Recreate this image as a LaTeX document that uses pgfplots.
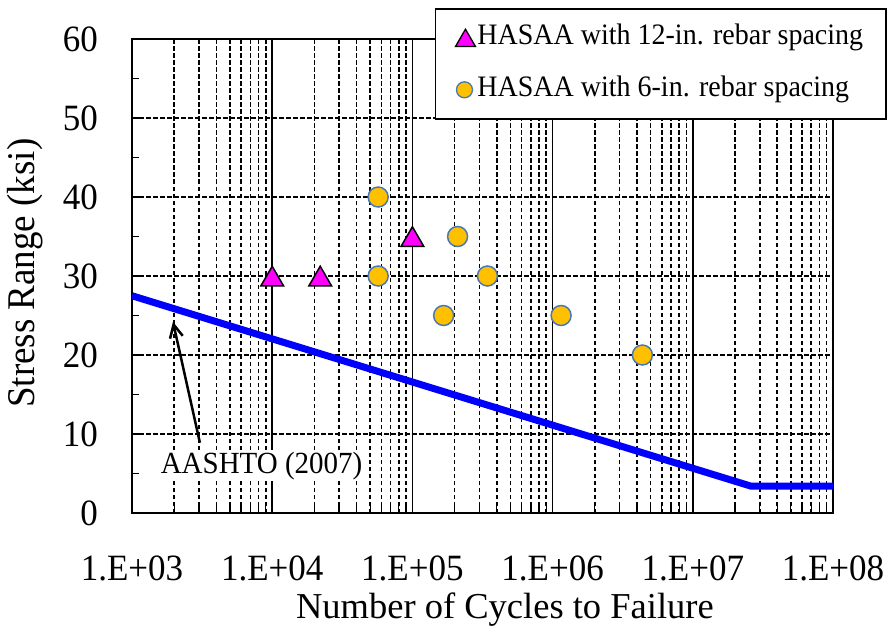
\documentclass[border=0pt]{standalone}
\usepackage{fontspec}
\setmainfont{Liberation Serif}
\usepackage{graphicx}
\usepackage{pgfplots}
\pgfplotsset{compat=1.18}
\usetikzlibrary{arrows.meta}
\definecolor{mag}{HTML}{FF00FF}
\definecolor{gold}{HTML}{FFC000}
\definecolor{ring}{HTML}{4A78B0}
\definecolor{aashto}{HTML}{0000FF}
\newcommand{\tl}[1]{\scalebox{1}[1.06]{#1}}
\begin{document}
\begin{tikzpicture}
\begin{axis}[
  xmode=log, log basis x=10,
  scale only axis, width=701pt, height=474pt,
  xmin=1e3, xmax=1e8, ymin=0, ymax=60,
  xtick={1e3,1e4,1e5,1e6,1e7,1e8},
  xticklabels={\tl{1.E+03},\tl{1.E+04},\tl{1.E+05},\tl{1.E+06},\tl{1.E+07},\tl{1.E+08}},
  minor xtick={2e3,3e3,4e3,5e3,6e3,7e3,8e3,9e3,
               2e4,3e4,4e4,5e4,6e4,7e4,8e4,9e4,
               2e5,3e5,4e5,5e5,6e5,7e5,8e5,9e5,
               2e6,3e6,4e6,5e6,6e6,7e6,8e6,9e6,
               2e7,3e7,4e7,5e7,6e7,7e7,8e7,9e7},
  ytick={0,10,20,30,40,50,60},
  yticklabels={\tl{0},\tl{10},\tl{20},\tl{30},\tl{40},\tl{50},\tl{60}},
  minor ytick={5,15,25,35,45,55},
  tick align=inside, tick pos=left,
  major tick length=8pt, minor tick length=7pt,
  every tick/.style={black, line width=1.3pt},
  axis line style={black, line width=2.2pt},
  xmajorgrids, xminorgrids, ymajorgrids,
  major x grid style={black, solid, line width=1.5pt},
  minor x grid style={black, dash pattern=on 4.5pt off 2.5pt, line width=1.6pt},
  major y grid style={black, dash pattern=on 4.5pt off 2.5pt, line width=1.6pt},
  tick label style={font=\fontsize{35}{40}\selectfont},
  xticklabel style={inner sep=0pt, anchor=north, yshift=-43pt},
  yticklabel style={inner sep=0pt, anchor=east, xshift=-34pt},
  xlabel={Number of Cycles to Failure},
  ylabel={\tl{Stress Range (ksi)}},
  xlabel style={at={(axis description cs:0.532,-0.203)}, anchor=center, font=\fontsize{36.5}{42}\selectfont},
  ylabel style={at={(axis description cs:-0.1526,0.506)}, anchor=center, font=\fontsize{37}{42}\selectfont},
  legend style={at={(1.077,1.0654)}, anchor=north east, draw=black, line width=1.6pt, fill=white,
    font=\fontsize{28}{32}\selectfont, inner xsep=0pt, inner ysep=16pt, row sep=26pt, column sep=0pt,
    nodes={inner sep=0pt, text height=20pt, text depth=6pt}, cells={anchor=west}},
]
\addplot[aashto, line width=7pt, line join=miter, forget plot] coordinates {(1e3,27.5) (2.6e7,3.4) (1e8,3.4)};

\draw[black, line width=2.5pt, -{Straight Barb[length=13pt,width=13pt,line width=2.5pt]}] (axis cs:3.05e3,8.9) -- (axis cs:1.96e3,24.2);
\node[fill=white, inner sep=1.5pt, anchor=base, font=\fontsize{29}{33}\selectfont] at (axis cs:8.4e3,5.06) {\tl{AASHTO (2007)}};

\addplot[only marks, mark=triangle*, mark size=13pt,
  mark options={fill=mag, draw=black, line width=1.5pt, yshift=-3.25pt},
  legend image code/.code={\path[draw=none, fill=none] (0pt,-8pt) rectangle (42pt,8pt);
    \draw plot[mark=triangle*, mark size=11.5pt, mark options={fill=mag, draw=black, line width=1.3pt, yshift=-2.9pt}] coordinates {(30pt,0pt)};}]
  coordinates {(1e4,30) (2.2e4,30) (1e5,35)};
\addlegendentry{\tl{HASAA with 12-in. rebar spacing}\hspace*{23pt}}

\addplot[only marks, mark=*, mark size=10pt,
  mark options={fill=gold, draw=ring, line width=1.5pt},
  legend image code/.code={\path[draw=none, fill=none] (0pt,-8pt) rectangle (42pt,8pt);
    \draw plot[mark=*, mark size=8pt, mark options={fill=gold, draw=ring, line width=1.3pt}] coordinates {(29pt,0pt)};}]
  coordinates {(5.7e4,40) (5.7e4,30) (1.67e5,25) (2.1e5,35) (3.43e5,30) (1.15e6,25) (4.37e6,20)};
\addlegendentry{\tl{HASAA with 6-in. rebar spacing}}
\end{axis}
\pgfresetboundingbox
\path (-132pt,-114pt) rectangle (761pt,513pt);
\end{tikzpicture}
\end{document}
